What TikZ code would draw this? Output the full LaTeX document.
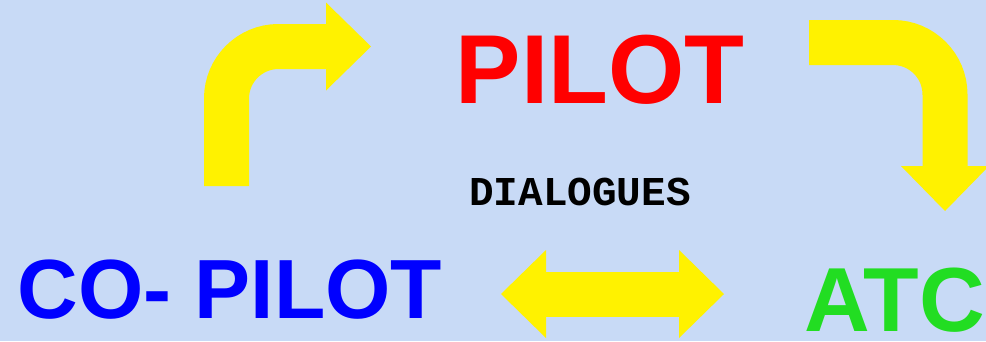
\documentclass[tikz,border=0pt]{standalone}
\usepackage{fontspec}
\setmainfont{Liberation Sans}
\setmonofont{Liberation Mono}
\usetikzlibrary{arrows.meta}
\definecolor{skyback}{RGB}{200,218,246}
\definecolor{atcgreen}{RGB}{34,221,34}

\begin{document}
\begin{tikzpicture}[x=1pt,y=-1pt,
  bigtip/.tip={Triangle[length=45pt,width=88pt,line width=0pt]},
  bigarrow/.style={draw=yellow,line width=45pt,rounded corners=52pt},
  word/.style={inner sep=0pt,text depth=0pt,font=\bfseries\fontsize{#1}{#1}\selectfont}]
  \fill[skyback] (0,0) rectangle (986,341);
  \useasboundingbox (0,0) rectangle (986,341);
  \node[word=98,text=red,anchor=base] (pilot) at (600,103) {PILOT};
  \node[word=84,text=blue,anchor=base] (copilot) at (230,318) {CO- PILOT};
  \node[word=91,text=atcgreen,anchor=base east] (atc) at (985,331) {ATC};
  \node[word=41,anchor=base] (dialogues) at (580,205) {\ttfamily DIALOGUES};
  \coordinate (cp-up) at (226.5,186);
  \coordinate (p-in) at (371,46.5);
  \coordinate (p-out) at (809,42.5);
  \coordinate (atc-in) at (945,211);
  \coordinate (cp-side) at (501,294);
  \coordinate (atc-side) at (724,294);
  \draw[bigarrow,-bigtip] (cp-up) |- (p-in);
  \draw[bigarrow,-bigtip] (p-out) -| (atc-in);
  \draw[bigarrow,bigtip-bigtip] (cp-side) -- (atc-side);
\end{tikzpicture}
\end{document}
